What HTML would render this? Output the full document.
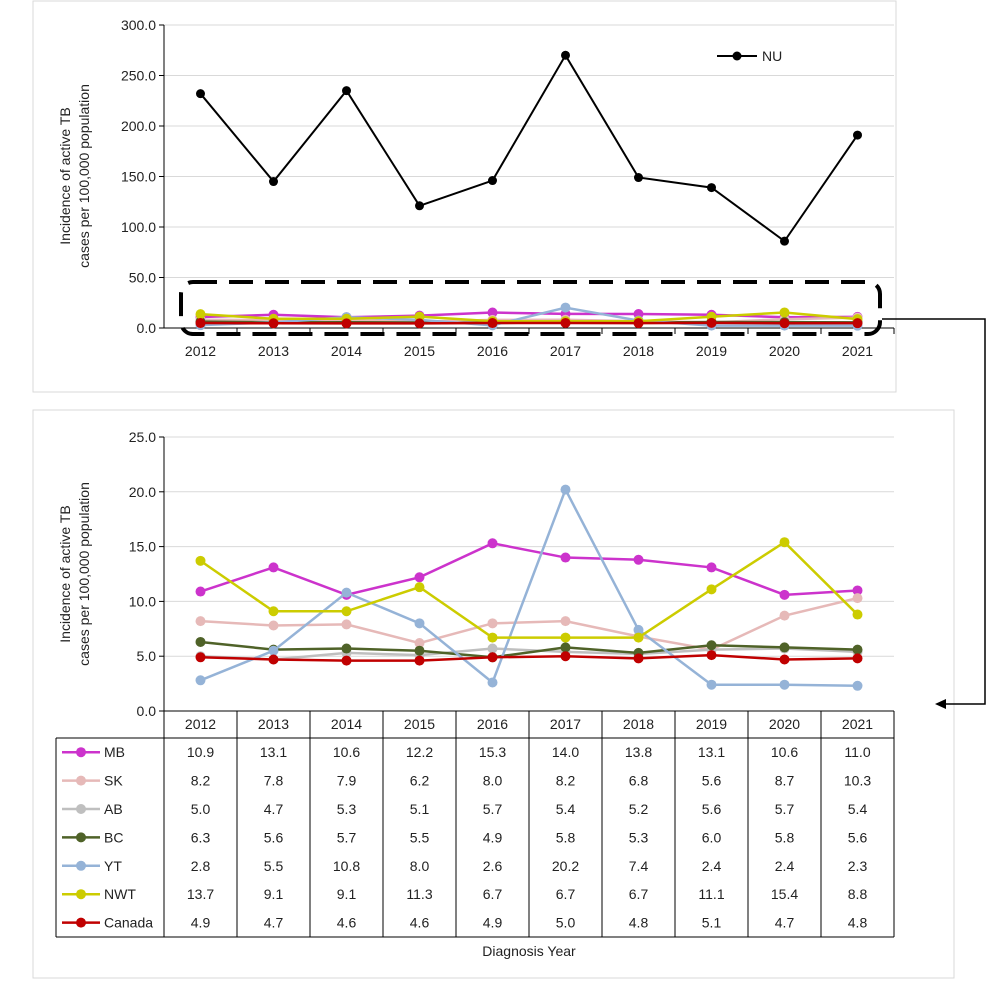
<!DOCTYPE html>
<html><head><meta charset="utf-8"><style>
body{margin:0;background:#fff;width:996px;height:984px;overflow:hidden;font-family:"Liberation Sans",sans-serif}
svg text{font-family:"Liberation Sans",sans-serif;fill:#222}
</style></head><body>
<svg id="c" width="996" height="984" xmlns="http://www.w3.org/2000/svg">
<rect x="33" y="1" width="863" height="391" fill="#fff" stroke="#d9d9d9"/>
<rect x="33" y="410" width="921" height="568" fill="#fff" stroke="#d9d9d9"/>
<g id="topg"></g><g id="botg"></g>
</svg>
<script>
const years=[2012,2013,2014,2015,2016,2017,2018,2019,2020,2021];
const nuValues=[232,145,235,121,146,270,149,139,86,191];
const seriesNames=["MB","SK","AB","BC","YT","NWT","Canada"];
const mbValues=[10.9,13.1,10.6,12.2,15.3,14.0,13.8,13.1,10.6,11.0];
const skValues=[8.2,7.8,7.9,6.2,8.0,8.2,6.8,5.6,8.7,10.3];
const abValues=[5.0,4.7,5.3,5.1,5.7,5.4,5.2,5.6,5.7,5.4];
const bcValues=[6.3,5.6,5.7,5.5,4.9,5.8,5.3,6.0,5.8,5.6];
const ytValues=[2.8,5.5,10.8,8.0,2.6,20.2,7.4,2.4,2.4,2.3];
const nwtValues=[13.7,9.1,9.1,11.3,6.7,6.7,6.7,11.1,15.4,8.8];
const canadaValues=[4.9,4.7,4.6,4.6,4.9,5.0,4.8,5.1,4.7,4.8];
const topTicks=[0,50,100,150,200,250,300];
const botTicks=[0,5,10,15,20,25];
const colors=["#cc33cc","#e6b9b8","#bfbfbf","#4f6228","#95b3d7","#cccc00","#c00000"];
const allSeries=[mbValues,skValues,abValues,bcValues,ytValues,nwtValues,canadaValues];
const NS="http://www.w3.org/2000/svg";
function mk(p,t,a){const e=document.createElementNS(NS,t);for(const k in a)e.setAttribute(k,a[k]);p.appendChild(e);return e;}
const X0=164,CW=73;
function xs(i){return X0+CW*(i+0.5);}
function ty(v){return 328-v*(303/300);}
function by(v){return 711-v*(274/25);}
const gTop=document.getElementById('topg'),gBot=document.getElementById('botg');
topTicks.forEach(t=>{
 const l=mk(gTop,'line',{x1:X0,x2:X0+730,y1:ty(t),y2:ty(t),stroke:t?'#d9d9d9':'#000'});
 
 const tx=mk(gTop,'text',{x:X0-8,y:ty(t)+5,'text-anchor':'end','font-size':14});tx.textContent=t.toFixed(1);
 
 mk(gTop,'line',{x1:X0-5,x2:X0,y1:ty(t),y2:ty(t),stroke:'#000'});
});
mk(gTop,'line',{x1:X0,x2:X0,y1:ty(300),y2:328,stroke:'#000'});
years.forEach((y,i)=>{
 mk(gTop,'line',{x1:X0+CW*(i+1),x2:X0+CW*(i+1),y1:328,y2:334,stroke:'#000'});
 const tx=mk(gTop,'text',{x:xs(i),y:356,'text-anchor':'middle','font-size':14});tx.textContent=y;
 
});
let tt=mk(gTop,'text',{transform:'translate(70,176) rotate(-90)','text-anchor':'middle','font-size':14});
tt.innerHTML='<tspan x="0" dy="0">Incidence of active TB</tspan><tspan x="0" dy="19">cases per 100,000 population</tspan>';

function drawLine(g,vals,col,yf,w,r,name){
 const p=mk(g,'polyline',{points:vals.map((v,i)=>xs(i)+','+yf(v)).join(' '),fill:'none',stroke:col,'stroke-width':w});
 
 vals.forEach((v,i)=>{const c=mk(g,'circle',{cx:xs(i),cy:yf(v),r:r,fill:col});
  });
}
allSeries.forEach((s,k)=>drawLine(gTop,s,colors[k],ty,2.5,5,seriesNames[k].toLowerCase()+'-top'));
drawLine(gTop,nuValues,'#000',ty,2,4.5,'nu');
mk(gTop,'line',{x1:717,x2:757,y1:56,y2:56,stroke:'#000','stroke-width':2});
mk(gTop,'circle',{cx:737,cy:56,r:4.5,fill:'#000'});
let lt=mk(gTop,'text',{x:762,y:61,'font-size':14});lt.textContent='NU';

let dr=mk(gTop,'rect',{x:181,y:282,width:699,height:52,rx:12,fill:'none',stroke:'#000','stroke-width':4,'stroke-dasharray':'24 12'});

let ar=mk(gTop,'polyline',{points:'882,319 985,319 985,704 945,704',fill:'none',stroke:'#000','stroke-width':1.5});

mk(gTop,'polygon',{points:'935,704 946,699 946,709',fill:'#000'});
botTicks.forEach(t=>{
 const l=mk(gBot,'line',{x1:X0,x2:X0+730,y1:by(t),y2:by(t),stroke:t?'#d9d9d9':'#000'});
 
 const tx=mk(gBot,'text',{x:X0-8,y:by(t)+5,'text-anchor':'end','font-size':14});tx.textContent=t.toFixed(1);
 
 mk(gBot,'line',{x1:X0-5,x2:X0,y1:by(t),y2:by(t),stroke:'#000'});
});
mk(gBot,'line',{x1:X0,x2:X0,y1:by(25),y2:711,stroke:'#000'});
let bt=mk(gBot,'text',{transform:'translate(70,574) rotate(-90)','text-anchor':'middle','font-size':14});
bt.innerHTML='<tspan x="0" dy="0">Incidence of active TB</tspan><tspan x="0" dy="19">cases per 100,000 population</tspan>';

allSeries.forEach((s,k)=>drawLine(gBot,s,colors[k],by,2.5,5,seriesNames[k].toLowerCase()));
const RH=28.4,T0=738;
years.forEach((y,i)=>{
 const tx=mk(gBot,'text',{x:xs(i),y:729,'text-anchor':'middle','font-size':14});tx.textContent=y;
 
});
for(let i=0;i<=10;i++)mk(gBot,'line',{x1:X0+CW*i,x2:X0+CW*i,y1:711,y2:937,stroke:'#000'});
mk(gBot,'line',{x1:56,x2:X0+730,y1:T0,y2:T0,stroke:'#000'});
mk(gBot,'line',{x1:56,x2:X0+730,y1:937,y2:937,stroke:'#000'});
mk(gBot,'line',{x1:56,x2:56,y1:T0,y2:937,stroke:'#000'});
mk(gBot,'line',{x1:X0+730,x2:X0+730,y1:711,y2:T0,stroke:'#000'});
allSeries.forEach((s,k)=>{
 const cy=T0+RH*(k+0.5);
 mk(gBot,'line',{x1:62,x2:100,y1:cy,y2:cy,stroke:colors[k],'stroke-width':2.5});
 mk(gBot,'circle',{cx:81,cy:cy,r:5,fill:colors[k]});
 const n=mk(gBot,'text',{x:104,y:cy+5,'font-size':14});n.textContent=seriesNames[k];
 
 s.forEach((v,i)=>{const c=mk(gBot,'text',{x:xs(i),y:cy+5,'text-anchor':'middle','font-size':14});c.textContent=v.toFixed(1);
  });
});
let xt=mk(gBot,'text',{x:529,y:956,'text-anchor':'middle','font-size':14});xt.textContent='Diagnosis Year';

</script>
</body></html>
